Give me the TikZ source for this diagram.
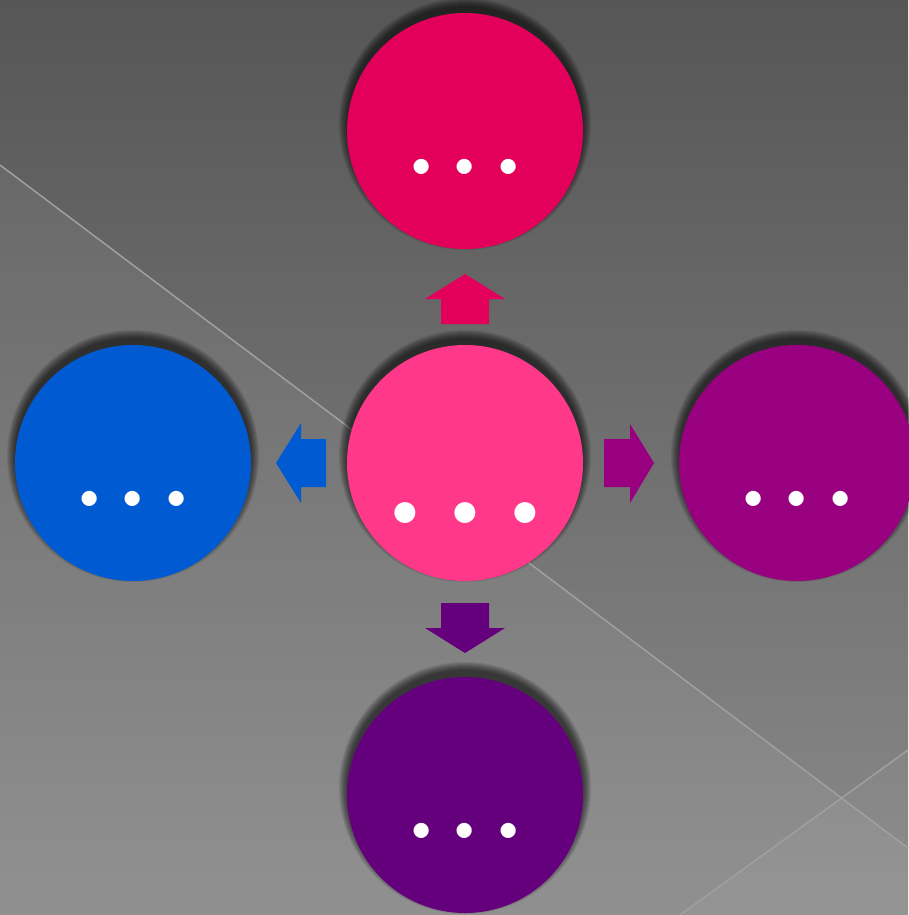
\documentclass[tikz,border=0pt]{standalone}
\definecolor{bgtop}{RGB}{86,86,86}
\definecolor{bgbot}{RGB}{138,138,138}
\definecolor{lineclr}{RGB}{160,160,160}
\definecolor{cTop}{RGB}{227,0,90}
\definecolor{cMid}{RGB}{255,56,138}
\definecolor{cLeft}{RGB}{0,91,211}
\definecolor{cRight}{RGB}{153,0,128}
\definecolor{cBot}{RGB}{101,0,125}
\tikzset{
  circ/.style={circle, minimum size=236pt, inner sep=0pt},
  shadowring/.style={fill=black, opacity=0.085},
  dotsS/.style={text=white, inner sep=0pt, anchor=base, font=\fontsize{185}{185}\selectfont},
  dotsL/.style={text=white, inner sep=0pt, anchor=base, font=\fontsize{255}{255}\selectfont},
  bgline/.style={draw=lineclr, line width=1.5pt}
}
\newcommand{\smalldots}{.\kern-2.5pt.\kern-2.5pt.}
\newcommand{\largedots}{.\kern-3.7pt.\kern-3.7pt.}
\begin{document}
\begin{tikzpicture}[x=1pt,y=-1pt]
\useasboundingbox (0,0) rectangle (908,915);
% background
\shade[top color=bgtop, bottom color=bgbot] (0,0) rectangle (908,915);
\fill[white, opacity=0.06] (0,165) -- (908,848) -- (908,915) -- (0,915) -- cycle;
\fill[white, opacity=0.04] (680,915) -- (908,750) -- (908,915) -- cycle;
\coordinate (l1a) at (0,165);
\coordinate (l1b) at (908,848);
\coordinate (l2a) at (680,915);
\coordinate (l2b) at (908,750);
\draw[bgline] (l1a) -- (l1b);
\draw[bgline] (l2a) -- (l2b);
% centres
\coordinate (ctop)   at (465,131);
\coordinate (cmid)   at (465,463);
\coordinate (cleft)  at (133,463);
\coordinate (cright) at (797,463);
\coordinate (cbot)   at (465,795);
% soft shadows (offset upward)
\foreach \c in {ctop,cmid,cleft,cright,cbot}{
  \foreach \k in {1,...,9}{
    \fill[shadowring] ([yshift=7pt]\c) circle[radius=117pt+\k pt];
  }
}
% circles
\node[circ, fill=cTop]   (top)   at (ctop)   {};
\node[circ, fill=cMid]   (mid)   at (cmid)   {};
\node[circ, fill=cLeft]  (left)  at (cleft)  {};
\node[circ, fill=cRight] (right) at (cright) {};
\node[circ, fill=cBot]   (bot)   at (cbot)   {};
% dots text
\node[dotsS] (topt)   at (465,174) {\smalldots};
\node[dotsL] (midt)   at (465,523) {\largedots};
\node[dotsS] (leftt)  at (133,506) {\smalldots};
\node[dotsS] (rightt) at (797,506) {\smalldots};
\node[dotsS] (bott)   at (465,838) {\smalldots};
% block arrows
\fill[cTop] (441,324) -- (441,299) -- (425,299) -- (465,274) -- (505,299) -- (489,299) -- (489,324) -- cycle;
\fill[cBot] (441,603) -- (441,628) -- (425,628) -- (465,653) -- (505,628) -- (489,628) -- (489,603) -- cycle;
\fill[cLeft] (326,439) -- (301,439) -- (301,423) -- (276,463) -- (301,503) -- (301,487) -- (326,487) -- cycle;
\fill[cRight] (604,439) -- (630,439) -- (630,424) -- (654,463) -- (630,503) -- (630,487) -- (604,487) -- cycle;
\end{tikzpicture}
\end{document}
